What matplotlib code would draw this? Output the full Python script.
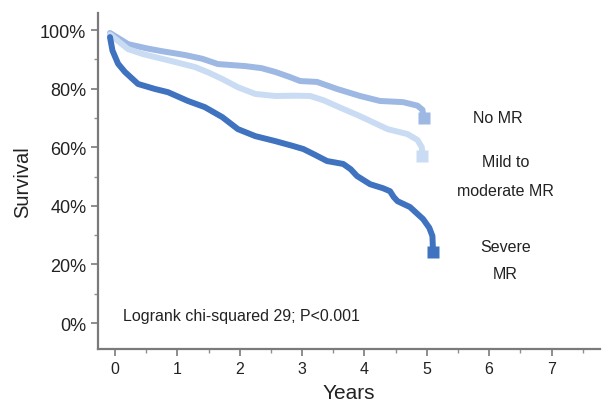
import numpy as np
import matplotlib.pyplot as plt

plt.rcParams['font.family'] = ['Liberation Sans', 'DejaVu Sans']

# curves (years, survival %)
no_mr_x = [-0.08, 0.21, 0.5, 0.75, 1.12, 1.4, 1.65, 2.09, 2.35, 2.57, 2.8, 2.97, 3.24, 3.56, 3.93, 4.25, 4.62, 4.85, 4.93, 4.95]
no_mr_y = [99.0, 95.2, 93.8, 92.8, 91.5, 90.2, 88.4, 87.7, 87.0, 85.7, 84.0, 82.6, 82.3, 79.9, 77.5, 75.8, 75.4, 74.2, 72.8, 70.0]

mild_x = [-0.08, 0.21, 0.45, 0.64, 0.91, 1.28, 1.5, 1.72, 1.97, 2.25, 2.57, 2.9, 3.13, 3.35, 3.56, 3.93, 4.37, 4.69, 4.85, 4.92, 4.93]
mild_y = [98.5, 93.5, 91.8, 90.8, 89.4, 87.4, 85.5, 83.3, 80.5, 78.2, 77.5, 77.6, 77.5, 76.0, 74.0, 70.6, 66.2, 64.5, 62.5, 60.0, 57.0]

severe_x = [-0.08, -0.04, 0.05, 0.16, 0.37, 0.64, 0.85, 1.17, 1.44, 1.72, 1.97, 2.25, 2.57, 2.86, 3.02, 3.2, 3.4, 3.66,
            3.78, 3.88, 4.09, 4.3, 4.41, 4.47, 4.53, 4.73, 4.94, 5.04, 5.09, 5.1]
severe_y = [97.6, 93.0, 88.5, 85.7, 81.6, 79.9, 78.8, 75.8, 73.7, 70.3, 66.2, 63.8, 62.1, 60.4, 59.4, 57.5, 55.3, 54.3,
            52.5, 50.2, 47.4, 46.0, 45.0, 43.0, 41.6, 39.6, 35.5, 32.5, 29.7, 24.2]

series = [
    (no_mr_x, no_mr_y, '#9db8e2'),
    (mild_x, mild_y, '#cadcf3'),
    (severe_x, severe_y, '#3f72bf'),
]

fig = plt.figure(figsize=(6.02, 4.02), dpi=100)
ax = fig.add_axes([0.163, 0.129, 0.834, 0.836])

for xs, ys, c in series:
    ax.plot(xs, ys, color=c, lw=4.3, solid_joinstyle='round', solid_capstyle='round')
    ax.plot(xs[-1], ys[-1], marker='s', ms=9, color=c, mec='none')

ax.set_xlim(-0.27, 7.78)
ax.set_ylim(-8.9, 105.8)

ax.set_xticks(range(0, 8))
ax.set_xticks(np.arange(0.5, 7.6, 1.0), minor=True)
ax.set_yticks(range(0, 101, 20))
ax.set_yticks(range(10, 100, 20), minor=True)
ax.set_yticklabels([f'{v}%' for v in range(0, 101, 20)])

for s in ['top', 'right']:
    ax.spines[s].set_visible(False)
for s in ['left', 'bottom']:
    ax.spines[s].set_color('#7a7a7a')
    ax.spines[s].set_linewidth(1.6)

ax.tick_params(which='major', length=5, width=1.2, color='#7a7a7a', labelsize=13, labelcolor='#222222')
ax.tick_params(which='minor', length=3, width=1.0, color='#909090')
ax.tick_params(axis='x', labelsize=11.5)

ax.set_xlabel('Years', fontsize=15, color='#222222', labelpad=5)
ax.set_ylabel('Survival', fontsize=14.5, color='#222222', labelpad=6)

fs = 11.5
ax.text(0.13, 2.5, 'Logrank chi-squared 29; P<0.001', fontsize=fs, color='#222222', va='center')
ax.text(6.14, 70.2, 'No MR', fontsize=fs, color='#222222', ha='center', va='center')
ax.text(6.26, 55.0, 'Mild to', fontsize=fs, color='#222222', ha='center', va='center')
ax.text(6.26, 45.4, 'moderate MR', fontsize=fs, color='#222222', ha='center', va='center')
ax.text(6.26, 26.3, 'Severe', fontsize=fs, color='#222222', ha='center', va='center')
ax.text(6.26, 16.8, 'MR', fontsize=fs, color='#222222', ha='center', va='center')

fig.savefig('out.png', dpi=100)
